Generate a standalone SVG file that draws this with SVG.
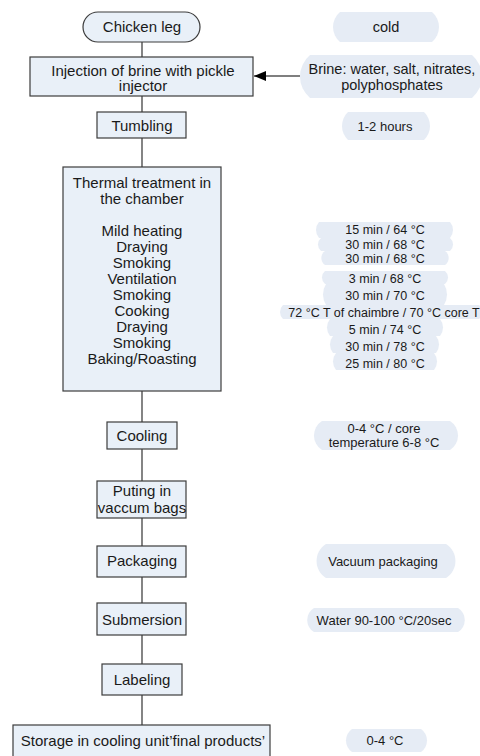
<svg xmlns="http://www.w3.org/2000/svg" width="480" height="756" viewBox="0 0 480 756">
<style>
.box{fill:#e9f0f8;stroke:#3c3c3c;stroke-width:1.2}
.pill{fill:#e6ecf5;stroke:none}
.t{font-family:"Liberation Sans",Arial,sans-serif;font-size:15px;fill:#1a1a1a;text-anchor:middle}
.v{font-family:"Liberation Sans",Arial,sans-serif;font-size:13px;fill:#1a1a1a;text-anchor:middle}
.s{font-family:"Liberation Sans",Arial,sans-serif;font-size:12.5px;fill:#1a1a1a;text-anchor:middle}
.b{font-family:"Liberation Sans",Arial,sans-serif;font-size:14.5px;fill:#1a1a1a;text-anchor:middle}
.c{stroke:#333;stroke-width:1.2;fill:none}
</style>
<defs>
<marker id="arr" markerUnits="userSpaceOnUse" markerWidth="12" markerHeight="10" refX="12" refY="5" orient="auto">
<path d="M0,0 L12,5 L0,10 Z" fill="#000"/>
</marker>
</defs>
<rect width="480" height="756" fill="#fff"/>
<g id="connectors">
<line class="c" x1="142" y1="42" x2="142" y2="57"/>
<line class="c" x1="142" y1="96" x2="142" y2="112"/>
<line class="c" x1="142" y1="138" x2="142" y2="167"/>
<line class="c" x1="142" y1="391" x2="142" y2="422"/>
<line class="c" x1="142" y1="449" x2="142" y2="481"/>
<line class="c" x1="142" y1="518" x2="142" y2="546"/>
<line class="c" x1="142" y1="577" x2="142" y2="603"/>
<line class="c" x1="142" y1="635" x2="142" y2="664"/>
<line class="c" x1="142" y1="695" x2="142" y2="725"/>
<line x1="300" y1="76" x2="254" y2="76" stroke="#000" stroke-width="1.2" marker-end="url(#arr)"/>
</g>
<g id="chicken-leg">
<rect class="box" x="83" y="12" width="117" height="30" rx="15" ry="15"/>
<text class="t" x="142" y="32">Chicken leg</text>
</g>
<g id="injection">
<rect class="box" x="30" y="57" width="223" height="39"/>
<text class="t" x="143" y="75.5">Injection of brine with pickle</text>
<text class="t" x="143" y="91">injector</text>
</g>
<g id="tumbling">
<rect class="box" x="97" y="112" width="89" height="26"/>
<text class="t" x="142" y="131">Tumbling</text>
</g>
<g id="thermal">
<rect class="box" x="63" y="167" width="158" height="224"/>
<text class="t" x="142" y="188">Thermal treatment in</text>
<text class="t" x="142" y="204">the chamber</text>
<text class="t" x="142" y="236">Mild heating</text>
<text class="t" x="142" y="252">Draying</text>
<text class="t" x="142" y="268">Smoking</text>
<text class="t" x="142" y="284">Ventilation</text>
<text class="t" x="142" y="300">Smoking</text>
<text class="t" x="142" y="316">Cooking</text>
<text class="t" x="142" y="332">Draying</text>
<text class="t" x="142" y="348">Smoking</text>
<text class="t" x="142" y="364">Baking/Roasting</text>
</g>
<g id="cooling">
<rect class="box" x="107" y="422" width="70" height="27"/>
<text class="t" x="142" y="441">Cooling</text>
</g>
<g id="vacuum-bags">
<rect class="box" x="97" y="481" width="89" height="37"/>
<text class="t" x="142" y="496">Puting in</text>
<text class="t" x="142" y="512.5">vaccum bags</text>
</g>
<g id="packaging">
<rect class="box" x="97" y="546" width="89" height="31"/>
<text class="t" x="142" y="566">Packaging</text>
</g>
<g id="submersion">
<rect class="box" x="97" y="603" width="89" height="32"/>
<text class="t" x="142" y="625">Submersion</text>
</g>
<g id="labeling">
<rect class="box" x="102" y="664" width="80" height="31"/>
<text class="t" x="142" y="685">Labeling</text>
</g>
<g id="storage">
<rect class="box" x="13" y="725" width="257" height="32"/>
<text class="t" x="143" y="746">Storage in cooling unit’final products’</text>
</g>
<g id="note-cold">
<path class="pill" d="M340,12 H432 A19.6 19.6 0 0 1 432,42 H340 A19.6 19.6 0 0 1 340,12 Z"/>
<text class="b" x="386" y="32">cold</text>
</g>
<g id="note-brine">
<path class="pill" d="M310,55 H472 A28.1 28.1 0 0 1 472,98 H310 A28.1 28.1 0 0 1 310,55 Z"/>
<text class="b" x="392" y="74">Brine: water, salt, nitrates,</text>
<text class="b" x="392" y="90">polyphosphates</text>
</g>
<g id="note-hours">
<path class="pill" d="M348,112 H424 A19.3 19.3 0 0 1 424,140 H348 A19.3 19.3 0 0 1 348,112 Z"/>
<text class="v" x="385" y="131">1-2 hours</text>
</g>
<g id="note-thermal">
<path class="pill" d="M319,222 H450 A12.2 12.2 0 0 1 450,238 H319 A12.2 12.2 0 0 1 319,222 Z"/>
<path class="pill" d="M321,238 H450 A8.5 8.5 0 0 1 450,251 H321 A8.5 8.5 0 0 1 321,238 Z"/>
<path class="pill" d="M325,251 H445 A8.5 8.5 0 0 1 445,265 H325 A8.5 8.5 0 0 1 325,251 Z"/>
<path class="pill" d="M325,271 H445 A8.5 8.5 0 0 1 445,284 H325 A8.5 8.5 0 0 1 325,271 Z"/>
<path class="pill" d="M326,284 H444 A19.9 19.9 0 0 1 444,305 H326 A19.9 19.9 0 0 1 326,284 Z"/>
<path class="pill" d="M283,305 H479 A9.7 9.7 0 0 1 479,319 H283 A9.7 9.7 0 0 1 283,305 Z"/>
<path class="pill" d="M330,319 H440 A13.5 13.5 0 0 1 440,336 H330 A13.5 13.5 0 0 1 330,319 Z"/>
<path class="pill" d="M333,336 H436 A13.5 13.5 0 0 1 436,353 H333 A13.5 13.5 0 0 1 333,336 Z"/>
<path class="pill" d="M336,353 H434 A13.5 13.5 0 0 1 434,370 H336 A13.5 13.5 0 0 1 336,353 Z"/>
<text class="s" x="385" y="234">15 min / 64 °C</text>
<text class="s" x="385" y="248.5">30 min / 68 °C</text>
<text class="s" x="385" y="262.5">30 min / 68 °C</text>
<text class="s" x="385" y="282.5">3 min / 68 °C</text>
<text class="s" x="385" y="299.5">30 min / 70 °C</text>
<text class="s" x="384" y="316.5">72 °C T of chaimbre / 70 °C core T</text>
<text class="s" x="385" y="333.5">5 min / 74 °C</text>
<text class="s" x="385" y="350.5">30 min / 78 °C</text>
<text class="s" x="385" y="367.5">25 min / 80 °C</text>
</g>
<g id="note-cooling">
<path class="pill" d="M322,421 H450 A17.1 17.1 0 0 1 450,450 H322 A17.1 17.1 0 0 1 322,421 Z"/>
<text class="v" x="384" y="432.5">0-4 °C / core</text>
<text class="v" x="384" y="446.5">temperature 6-8 °C</text>
</g>
<g id="note-vacuum">
<path class="pill" d="M326,544 H446 A20 20 0 0 1 446,578 H326 A20 20 0 0 1 326,544 Z"/>
<text class="v" x="383" y="565.5">Vacuum packaging</text>
</g>
<g id="note-water">
<path class="pill" d="M314,608 H458 A14 14 0 0 1 458,632 H314 A14 14 0 0 1 314,608 Z"/>
<text class="v" x="384" y="624.5">Water 90-100 °C/20sec</text>
</g>
<g id="note-storage">
<path class="pill" d="M352,729 H421 A14 14 0 0 1 421,752 H352 A14 14 0 0 1 352,729 Z"/>
<text class="v" x="385" y="744.5">0-4 °C</text>
</g>
</svg>
